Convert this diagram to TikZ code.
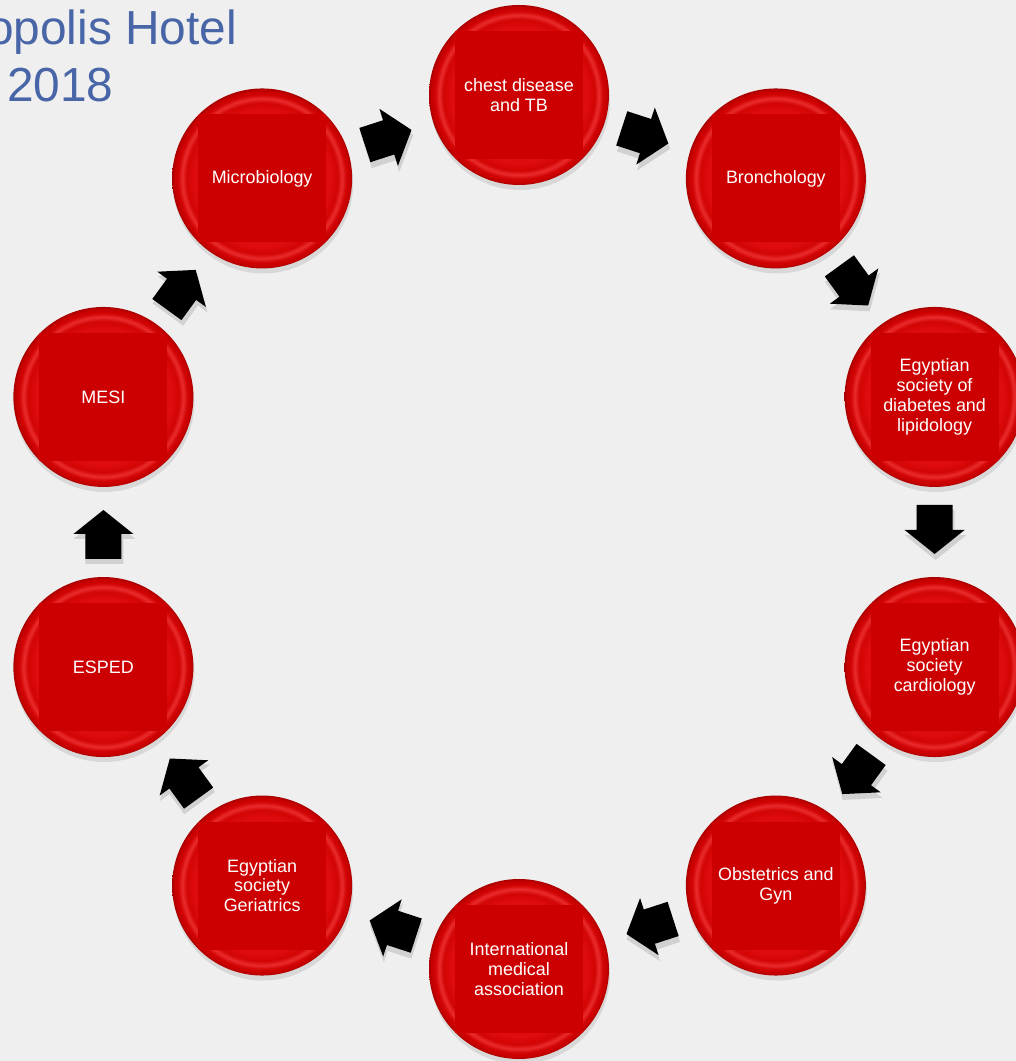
\documentclass[tikz,border=0pt]{standalone}
\usepackage{fontspec}
\setmainfont{Liberation Sans}
\usetikzlibrary{calc,shadows}
\definecolor{bg}{RGB}{239,239,239}
\definecolor{btnA}{RGB}{222,12,12}
\definecolor{btnB}{RGB}{210,4,4}
\definecolor{btnC}{RGB}{234,44,44}
\definecolor{btnE}{RGB}{198,0,0}
\definecolor{btnD}{RGB}{168,0,0}
\definecolor{sqred}{RGB}{204,0,0}
\definecolor{titleblue}{RGB}{72,101,167}
\pgfdeclareradialshading{btnshade}{\pgfpoint{0bp}{0bp}}{color(0bp)=(btnA); color(19bp)=(btnA); color(21bp)=(btnB); color(22.2bp)=(btnC); color(23.3bp)=(btnB); color(24.4bp)=(btnE); color(25bp)=(btnD); color(50bp)=(btnD)}
\tikzset{
  btn/.style={circle, minimum size=180bp, inner sep=0pt, shading=btnshade,
    drop shadow={shadow xshift=1bp, shadow yshift=-5bp, opacity=0.2},
    path picture={\fill[sqred] ($(path picture bounding box.center)+(-64,-64)$) rectangle ++(128,128);},
    text=white, align=center, font=\fontsize{18}{20}\selectfont},
  arrowshape/.style={fill=black},
  arrowshadow/.style={fill=black, opacity=0.12},
  titletext/.style={text=titleblue, anchor=base west, inner sep=0pt, font=\fontsize{48}{56}\selectfont}
}
\begin{document}
\begin{tikzpicture}[x=1bp,y=1bp]
\useasboundingbox (0,0) rectangle (1016,1061);
\fill[bg] (0,0) rectangle (1016,1061);
\clip (0,0) rectangle (1016,1061);
\node[titletext] (title1) at (-13,1016) {opolis Hotel};
\node[titletext] (title2) at (7,959) {2018};
\coordinate (C) at (519,529);
\node[btn] (n1) at ($(C)+(90:437)$) {chest disease\\and TB};
\node[btn] (n2) at ($(C)+(54:437)$) {Bronchology};
\node[btn] (n3) at ($(C)+(18:437)$) {Egyptian\\society of\\diabetes and\\lipidology};
\node[btn] (n4) at ($(C)+(-18:437)$) {Egyptian\\society\\cardiology};
\node[btn] (n5) at ($(C)+(-54:437)$) {Obstetrics and\\Gyn};
\node[btn] (n6) at ($(C)+(-90:437)$) {International\\medical\\association};
\node[btn] (n7) at ($(C)+(-126:437)$) {Egyptian\\society\\Geriatrics};
\node[btn] (n8) at ($(C)+(-162:437)$) {ESPED};
\node[btn] (n9) at ($(C)+(162:437)$) {MESI};
\node[btn] (n10) at ($(C)+(126:437)$) {Microbiology};
\foreach \a/\b/\ang in {n1/n2/-18, n2/n3/-54, n3/n4/-90, n4/n5/-126, n5/n6/-162, n6/n7/162, n7/n8/126, n8/n9/90, n9/n10/54, n10/n1/18}{
  \begin{scope}[shift={($(\a)!0.5!(\b)+(1,-5)$)}, rotate=\ang]
    \fill[arrowshadow] (-27,-19) -- (-2,-19) -- (-2,-31) -- (23,0) -- (-2,31) -- (-2,19) -- (-27,19) -- cycle;
  \end{scope}
  \begin{scope}[shift={($(\a)!0.5!(\b)$)}, rotate=\ang]
    \fill[arrowshape] (-27,-18) -- (-2,-18) -- (-2,-30) -- (22,0) -- (-2,30) -- (-2,18) -- (-27,18) -- cycle;
  \end{scope}
}
\end{tikzpicture}
\end{document}
